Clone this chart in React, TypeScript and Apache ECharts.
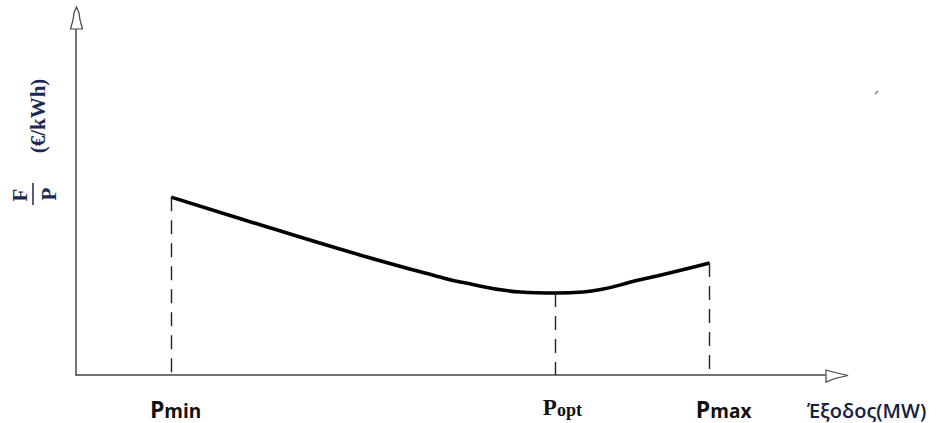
import React, { useEffect, useRef } from "react";
import * as echarts from "echarts";

// Curve: cost per unit output vs output (arbitrary units 0..100)
const curveX = [12.7, 24.6, 37.9, 48.6, 51.3, 59.3, 64.0, 67.7, 75.3, 84.6];
const curveY = [51.4, 43.4, 34.7, 28.3, 26.9, 24.0, 23.7, 24.0, 27.5, 32.4];

// Marked operating points
const pointNames = ["Pmin", "Popt", "Pmax"];
const pointX = [12.7, 64.0, 84.6];

const xAxisName = "Έξοδος(MW)";
const yUnit = "(€/kWh)";

const axisColor = "#444";
const labelInk = "#1b2a55";

function yAt(x: number): number {
  const i = curveX.indexOf(x);
  return i >= 0 ? curveY[i] : 0;
}

function tickLabel(v: number): string {
  const i = pointX.findIndex((p) => Math.abs(p - v) < 1e-6);
  if (i < 0) return "";
  const n = pointNames[i];
  if (n === "Popt") return "{pr|P}{or|opt}";
  if (n === "Pmin") return "{ps1|P}{ms|min}";
  return "{ps3|P}{ms|max}";
}

export default function App() {
  const ref = useRef<HTMLDivElement>(null);
  useEffect(() => {
    if (!ref.current) return;
    const chart = echarts.init(ref.current, null, { renderer: "svg" });
    const option: any = {
      animation: false,
      backgroundColor: "#ffffff",
      grid: { left: 76, right: 112, top: 29, bottom: 48, containLabel: false, outerBoundsMode: "none" },
      xAxis: {
        type: "value",
        min: 0,
        max: 100,
        axisLine: { show: true, lineStyle: { color: axisColor, width: 1.5 } },
        axisTick: { show: false },
        splitLine: { show: false },
        axisLabel: {
          show: true,
          customValues: pointX,
          formatter: (v: number) => tickLabel(v),
          margin: 20,
          rich: {
            ps1: { fontFamily: "Open Sans", fontWeight: "bold", fontSize: 23, color: "#111", lineHeight: 25, verticalAlign: "bottom", padding: [0, 0, 0, 9] },
            ps3: { fontFamily: "Open Sans", fontWeight: "bold", fontSize: 23, color: "#111", lineHeight: 25, verticalAlign: "bottom", padding: [0, 0, 0, 28] },
            ms: { fontFamily: "Open Sans", fontWeight: "bold", fontSize: 19, color: "#111", lineHeight: 21, verticalAlign: "bottom" },
            pr: { fontFamily: "Liberation Serif", fontWeight: "bold", fontSize: 23, color: "#111", lineHeight: 24, verticalAlign: "bottom", padding: [0, 0, 0, 14] },
            or: { fontFamily: "Liberation Serif", fontWeight: "bold", fontSize: 18, color: "#111", lineHeight: 20, verticalAlign: "bottom" },
          },
        },
      },
      yAxis: {
        type: "value",
        min: 0,
        max: 100,
        axisLine: { show: true, lineStyle: { color: axisColor, width: 1.5 } },
        axisTick: { show: false },
        axisLabel: { show: false },
        splitLine: { show: false },
      },
      series: [
        {
          type: "line",
          data: curveX.map((x, i) => [x, curveY[i]]),
          showSymbol: false,
          smooth: 0.45,
          lineStyle: { color: "#000", width: 3.6 },
          markLine: {
            silent: true,
            symbol: ["none", "none"],
            label: { show: false },
            lineStyle: { type: [14, 9], color: "#222", width: 1.4 },
            data: pointX.map((x) => [{ coord: [x, yAt(x)] }, { coord: [x, 0] }]),
          },
        },
      ],
      graphic: [
        {
          type: "polygon",
          shape: { points: [[76.5, 7], [74, 13], [73, 20], [70.5, 29], [82.5, 29], [80, 20], [79, 13]] },
          style: { fill: "#fff", stroke: axisColor, lineWidth: 1.2 },
          z: 10,
        },
        {
          type: "polygon",
          shape: { points: [[826, 370], [835, 372.5], [848, 375.5], [835, 378.5], [826, 382]] },
          style: { fill: "#fff", stroke: axisColor, lineWidth: 1.2 },
          z: 10,
        },
        {
          type: "text",
          x: 807,
          y: 410,
          style: { text: xAxisName, font: "600 20px 'Open Sans'", fill: "#15203f", align: "left", verticalAlign: "middle" },
        },
        {
          type: "text",
          x: 37.5,
          y: 116,
          rotation: Math.PI / 2,
          style: { text: yUnit, font: "bold 21px 'Liberation Serif'", fill: labelInk, align: "center", verticalAlign: "middle" },
        },
        {
          type: "text",
          x: 20,
          y: 195,
          rotation: Math.PI / 2,
          style: { text: "F", font: "bold 21px 'Liberation Serif'", fill: labelInk, align: "center", verticalAlign: "middle" },
        },
        {
          type: "line",
          shape: { x1: 33, y1: 183, x2: 33, y2: 205 },
          style: { stroke: labelInk, lineWidth: 1.5 },
        },
        {
          type: "text",
          x: 48.5,
          y: 194,
          rotation: Math.PI / 2,
          style: { text: "P", font: "bold 21px 'Liberation Serif'", fill: labelInk, align: "center", verticalAlign: "middle" },
        },
        {
          type: "line",
          shape: { x1: 875, y1: 94, x2: 878, y2: 91 },
          style: { stroke: "#777", lineWidth: 1.2 },
        },
      ],
    };
    chart.setOption(option);
    return () => chart.dispose();
  }, []);
  return <div ref={ref} style={{ position: "absolute", left: 0, top: 0, width: 937, height: 423 }} />;
}
